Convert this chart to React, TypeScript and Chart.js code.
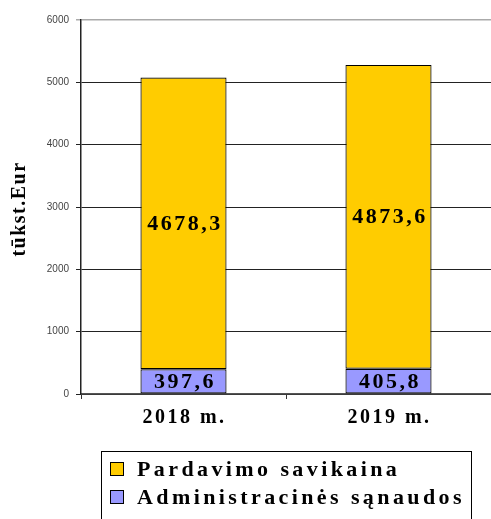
import React, { useEffect, useRef } from "react";
import { Chart, registerables } from "chart.js";

Chart.register(...registerables);

const categories = ["2018 m.", "2019 m."];
const adminValues = [397.6, 405.8];
const costValues = [4678.3, 4873.6];
const seriesNames = ["Pardavimo savikaina", "Administracinės sąnaudos"];
const yTitle = "tūkst.Eur";

const YELLOW = "#FFCC00";
const PURPLE = "#9999FF";
const SERIF = "'Liberation Serif', 'Times New Roman', serif";

const fmt = (v: number) => v.toFixed(1).replace(".", ",");

const overlayPlugin = {
  id: "overlay",
  afterDraw(chart: any) {
    const ctx = chart.ctx as CanvasRenderingContext2D;
    const xs = chart.scales.x;
    ctx.save();
    // data labels
    ctx.fillStyle = "#000";
    ctx.textAlign = "center";
    ctx.textBaseline = "middle";
    ctx.font = `bold 22px ${SERIF}`;
    (ctx as any).letterSpacing = "2.5px";
    chart.data.datasets.forEach((ds: any, di: number) => {
      const meta = chart.getDatasetMeta(di);
      meta.data.forEach((bar: any, i: number) => {
        const cy = (bar.y + bar.base) / 2;
        ctx.fillText(fmt(ds.data[i]), bar.x + 1.5, cy + 1);
      });
    });
    // x labels
    ctx.font = `bold 20px ${SERIF}`;
    (ctx as any).letterSpacing = "2.5px";
    ctx.textBaseline = "alphabetic";
    categories.forEach((c, i) => {
      ctx.fillText(c, xs.getPixelForValue(i) + 1, 423);
    });
    // y title
    ctx.save();
    ctx.translate(25, 209);
    ctx.rotate(-Math.PI / 2);
    ctx.font = `bold 20px ${SERIF}`;
    (ctx as any).letterSpacing = "1.5px";
    ctx.textAlign = "center";
    ctx.fillText(yTitle, 0, 0);
    ctx.restore();
    // legend
    ctx.strokeStyle = "#000";
    ctx.lineWidth = 1;
    ctx.strokeRect(101.5, 451.5, 370, 100);
    const rows = [
      { label: seriesNames[0], color: YELLOW, top: 462, base: 476 },
      { label: seriesNames[1], color: PURPLE, top: 490, base: 504 },
    ];
    ctx.textAlign = "left";
    ctx.font = `bold 22px ${SERIF}`;
    (ctx as any).letterSpacing = "3.4px";
    rows.forEach((r) => {
      ctx.fillStyle = r.color;
      ctx.fillRect(110.5, r.top + 0.5, 13, 13);
      ctx.strokeStyle = "#000";
      ctx.strokeRect(110.5, r.top + 0.5, 13, 13);
      ctx.fillStyle = "#000";
      ctx.fillText(r.label, 137, r.base);
    });
    ctx.restore();
  },
};

export default function App() {
  const ref = useRef<HTMLCanvasElement>(null);
  useEffect(() => {
    if (!ref.current) return;
    const chart = new Chart(ref.current, {
      type: "bar",
      data: {
        labels: categories,
        datasets: [
          {
            label: seriesNames[1],
            data: adminValues,
            backgroundColor: PURPLE,
            borderColor: "#000",
            borderWidth: 1.2,
            borderSkipped: false,
            categoryPercentage: 1,
            barPercentage: 0.42,
          },
          {
            label: seriesNames[0],
            data: costValues,
            backgroundColor: YELLOW,
            borderColor: "#000",
            borderWidth: 1.2,
            borderSkipped: false,
            categoryPercentage: 1,
            barPercentage: 0.42,
          },
        ],
      },
      options: {
        responsive: false,
        animation: false,
        devicePixelRatio: 1,
        layout: { padding: { top: 20, left: 0, right: -4, bottom: 95 } },
        plugins: { legend: { display: false }, tooltip: { enabled: false } },
        scales: {
          x: {
            stacked: true,
            afterFit: (s: any) => {
              s.height = 30;
            },
            grid: {
              offset: true,
              drawOnChartArea: false,
              drawTicks: true,
              tickLength: 5,
              color: "#333",
            },
            border: { color: "#555", width: 1.5 },
            ticks: { color: "rgba(0,0,0,0)", font: { size: 12 }, maxRotation: 0 },
          },
          y: {
            stacked: true,
            min: 0,
            max: 6000,
            afterFit: (s: any) => {
              s.width = 81;
            },
            ticks: {
              stepSize: 1000,
              padding: 7,
              color: "#444",
              font: { family: "Arial, 'Liberation Sans', sans-serif", size: 10 },
              callback: (v: any) => String(v),
            },
            grid: {
              tickLength: 5,
              color: (c: any) => (c.tick && c.tick.value === 6000 ? "#aaa" : "#222"),
              lineWidth: (c: any) => (c.tick && c.tick.value === 6000 ? 1.5 : 1),
            },
            border: { color: "#222", width: 1.5 },
          },
        },
      },
      plugins: [overlayPlugin],
    } as any);
    return () => chart.destroy();
  }, []);
  return (
    <div style={{ position: "fixed", left: 0, top: 0, width: 491, height: 519, background: "#fff" }}>
      <canvas ref={ref} width={491} height={519} style={{ width: 491, height: 519, display: "block" }} />
    </div>
  );
}
